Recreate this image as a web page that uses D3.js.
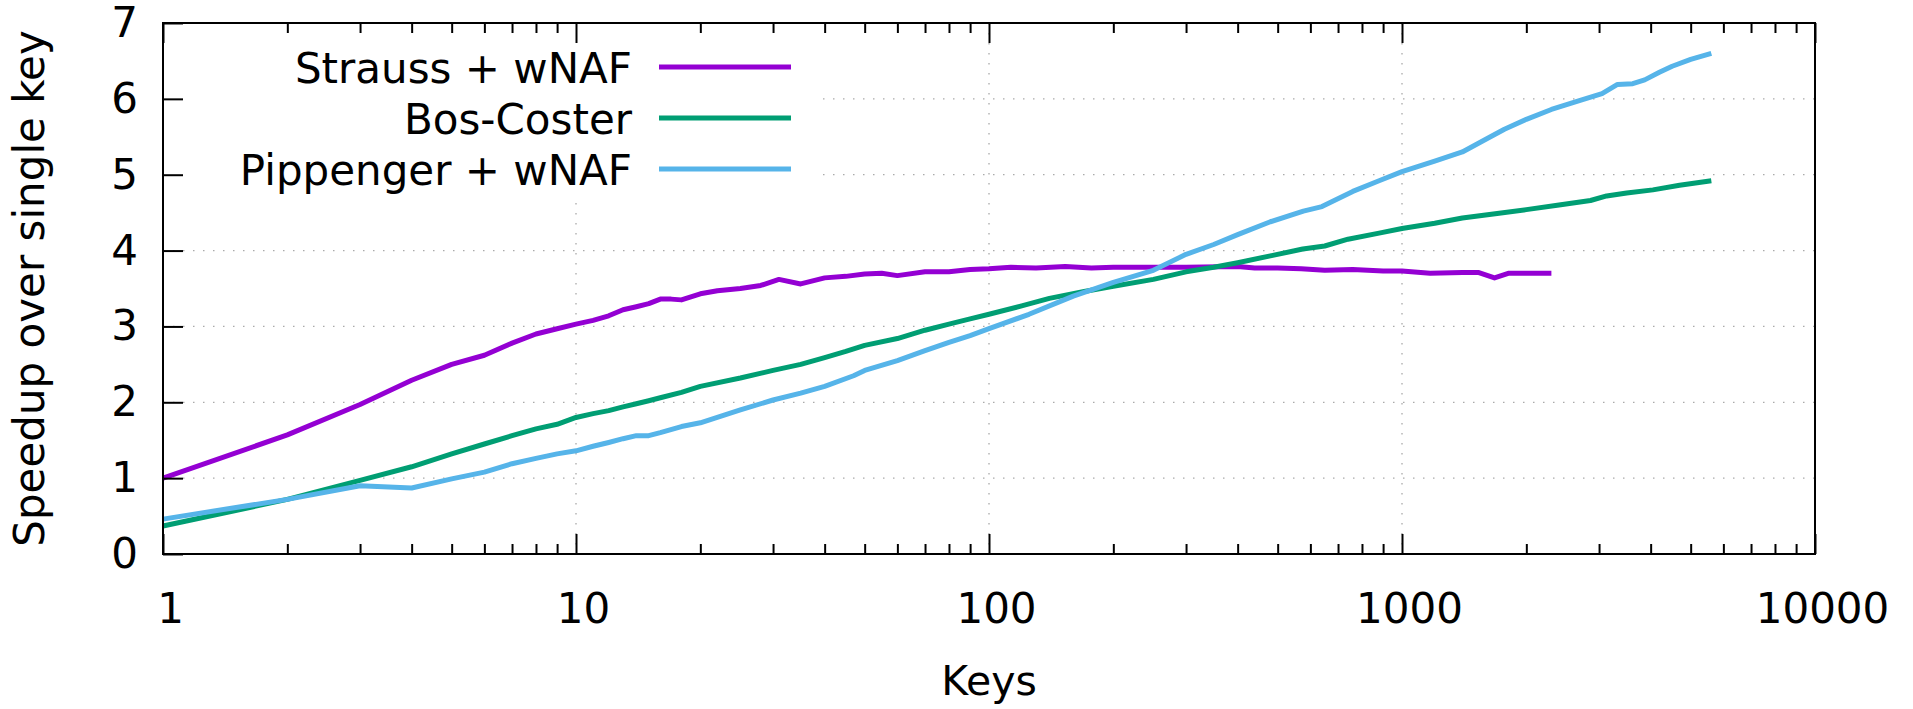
<!DOCTYPE html>
<html>
<head>
<meta charset="utf-8">
<script src="https://cdn.jsdelivr.net/npm/d3@7"></script>
<style>
  body { margin: 0; background: #fff; }
  svg { display: block; font-family: "DejaVu Sans", sans-serif; }
</style>
</head>
<body>
<svg id="chart"></svg>
<script>
const svgWidth = 1913;
const svgHeight = 709;

// series values
const straussKeys = [1, 2, 3, 4, 5, 6, 7, 8, 9, 10, 11, 12, 13, 14, 15, 16, 17, 18, 20, 22, 25, 28, 31, 35, 40, 45, 50, 55, 60, 70, 80, 90, 100, 113, 130, 153, 177, 200, 240, 300, 400, 440, 500, 570, 650, 760, 900, 1000, 1170, 1400, 1535, 1675, 1808, 2100, 2300];
const straussSpeedup = [1.0, 1.57, 1.97, 2.29, 2.5, 2.62, 2.78, 2.9, 2.97, 3.03, 3.08, 3.14, 3.22, 3.26, 3.30, 3.36, 3.36, 3.35, 3.43, 3.47, 3.50, 3.54, 3.62, 3.56, 3.64, 3.66, 3.69, 3.70, 3.67, 3.72, 3.72, 3.75, 3.76, 3.78, 3.77, 3.79, 3.77, 3.78, 3.78, 3.78, 3.79, 3.77, 3.77, 3.76, 3.74, 3.75, 3.73, 3.73, 3.70, 3.71, 3.71, 3.64, 3.70, 3.70, 3.70];

const bosKeys = [1, 2, 3, 4, 5, 6, 7, 8, 9, 10, 11, 12, 13, 14, 15, 16, 18, 20, 25, 30, 35, 40, 45, 50, 60, 70, 80, 90, 100, 120, 140, 170, 200, 250, 300, 350, 400, 480, 575, 650, 740, 880, 1000, 1200, 1400, 1700, 2000, 2400, 2860, 3130, 3500, 4050, 4700, 5610];
const bosSpeedup = [0.37, 0.72, 0.97, 1.15, 1.32, 1.45, 1.56, 1.65, 1.71, 1.80, 1.85, 1.89, 1.94, 1.98, 2.02, 2.06, 2.13, 2.21, 2.32, 2.42, 2.50, 2.59, 2.67, 2.75, 2.84, 2.95, 3.03, 3.10, 3.16, 3.27, 3.37, 3.46, 3.53, 3.62, 3.72, 3.78, 3.84, 3.93, 4.02, 4.06, 4.15, 4.23, 4.29, 4.36, 4.43, 4.49, 4.54, 4.60, 4.66, 4.72, 4.76, 4.80, 4.86, 4.92];

const pipKeys = [1, 2, 3, 4, 5, 6, 7, 8, 9, 10, 11, 12, 13, 14, 15, 16, 18, 20, 25, 30, 35, 40, 47, 50, 60, 70, 80, 90, 100, 125, 160, 200, 250, 300, 350, 400, 480, 577, 640, 760, 880, 1000, 1200, 1400, 1600, 1770, 2000, 2300, 2700, 3050, 3325, 3620, 3870, 4200, 4510, 5000, 5610];
const pipSpeedup = [0.46, 0.72, 0.90, 0.87, 0.99, 1.08, 1.19, 1.26, 1.32, 1.36, 1.42, 1.47, 1.52, 1.56, 1.56, 1.60, 1.68, 1.73, 1.90, 2.03, 2.12, 2.21, 2.35, 2.42, 2.55, 2.68, 2.79, 2.88, 2.97, 3.16, 3.40, 3.58, 3.74, 3.95, 4.08, 4.21, 4.38, 4.52, 4.58, 4.78, 4.92, 5.04, 5.18, 5.30, 5.47, 5.60, 5.73, 5.86, 5.98, 6.07, 6.19, 6.20, 6.25, 6.35, 6.43, 6.52, 6.60];

const seriesNames = ["Strauss + wNAF", "Bos-Coster", "Pippenger + wNAF"];
const seriesColors = ["#9400d3", "#009e73", "#56b4e9"];

const xMajorTicks = [1, 10, 100, 1000, 10000];
const yTicks = [0, 1, 2, 3, 4, 5, 6, 7];

const margin = {left: 163, right: 98, top: 23, bottom: 155};
const plotW = svgWidth - margin.left - margin.right;
const plotH = svgHeight - margin.top - margin.bottom;
const fontSize = 42;

let svg = d3.select("#chart")
  .attr("width", svgWidth)
  .attr("height", svgHeight);

svg.append("rect").attr("width", svgWidth).attr("height", svgHeight).attr("fill", "#fff");

let g = svg.append("g").attr("transform", `translate(${margin.left},${margin.top})`);

let x = d3.scaleLog().domain([1, 10000]).range([0, plotW]);
let y = d3.scaleLinear().domain([0, 7]).range([plotH, 0]);

// minor ticks 2..9 in each decade
let xMinorTicks = [];
for (let d = 1; d < 10000; d *= 10) {
  for (let m = 2; m < 10; m++) xMinorTicks.push(d * m);
}

// dotted grid
const gridStyle = sel => sel.attr("stroke", "#aaa").attr("stroke-width", 1.3).attr("stroke-dasharray", "1.5,8.5");
g.selectAll(".gx").data([10, 100, 1000]).join("line")
  .attr("x1", d => x(d)).attr("x2", d => x(d))
  .attr("y1", 0).attr("y2", plotH)
  .call(gridStyle);
g.selectAll(".gy").data([1, 2, 3, 4, 5, 6]).join("line")
  .attr("x1", 0).attr("x2", plotW)
  .attr("y1", d => y(d)).attr("y2", d => y(d))
  .call(gridStyle);

// opaque key box
g.append("rect")
  .attr("x", 1).attr("y", 1)
  .attr("width", 654).attr("height", 172)
  .attr("fill", "#fff");

// series lines
const line = d3.line()
  .x(d => x(d[0]))
  .y(d => y(d[1]));

const series = [
  d3.zip(straussKeys, straussSpeedup),
  d3.zip(bosKeys, bosSpeedup),
  d3.zip(pipKeys, pipSpeedup)
];

g.selectAll(".series").data(series).join("path")
  .attr("d", line)
  .attr("fill", "none")
  .attr("stroke", (d, i) => seriesColors[i])
  .attr("stroke-width", 5)
  .attr("stroke-linejoin", "round")
  .attr("stroke-linecap", "butt");

// axes with inward ticks
const styleAxis = sel => {
  sel.select(".domain").remove();
  sel.selectAll(".tick line").attr("stroke", "#000").attr("stroke-width", 2);
  sel.selectAll(".tick text").attr("fill", "#000").attr("font-size", fontSize).attr("font-family", "DejaVu Sans");
};

g.append("g").attr("transform", `translate(0,${plotH})`)
  .call(d3.axisBottom(x).tickValues(xMajorTicks).tickFormat(d3.format("d")).tickSizeInner(-20).tickSizeOuter(0).tickPadding(39))
  .call(styleAxis)
  .selectAll(".tick text").attr("dx", 7);
g.append("g").attr("transform", `translate(0,${plotH})`)
  .call(d3.axisBottom(x).tickValues(xMinorTicks).tickFormat("").tickSizeInner(-10).tickSizeOuter(0))
  .call(styleAxis);
g.append("g")
  .call(d3.axisTop(x).tickValues(xMajorTicks).tickFormat("").tickSizeInner(-20).tickSizeOuter(0))
  .call(styleAxis);
g.append("g")
  .call(d3.axisTop(x).tickValues(xMinorTicks).tickFormat("").tickSizeInner(-10).tickSizeOuter(0))
  .call(styleAxis);
g.append("g")
  .call(d3.axisLeft(y).tickValues(yTicks).tickFormat(d3.format("d")).tickSizeInner(-20).tickSizeOuter(0).tickPadding(25))
  .call(styleAxis);

// border
g.append("rect")
  .attr("width", plotW).attr("height", plotH)
  .attr("fill", "none").attr("stroke", "#000").attr("stroke-width", 2);

// legend
let key = g.append("g").attr("transform", "translate(469,44)");
seriesNames.forEach((name, i) => {
  let row = key.append("g").attr("transform", `translate(0,${i * 51})`);
  row.append("text")
    .attr("x", 0).attr("dy", "0.38em")
    .attr("text-anchor", "end")
    .attr("font-size", fontSize)
    .text(name);
  row.append("line")
    .attr("x1", 27).attr("x2", 159)
    .attr("stroke", seriesColors[i])
    .attr("stroke-width", 5);
});

// axis titles
svg.append("text")
  .attr("x", margin.left + plotW / 2).attr("y", 695)
  .attr("text-anchor", "middle")
  .attr("font-size", 41)
  .text("Keys");
svg.append("text")
  .attr("transform", `translate(44,${margin.top + plotH / 2}) rotate(-90)`)
  .attr("text-anchor", "middle")
  .attr("font-size", fontSize)
  .text("Speedup over single key");
</script>
</body>
</html>
